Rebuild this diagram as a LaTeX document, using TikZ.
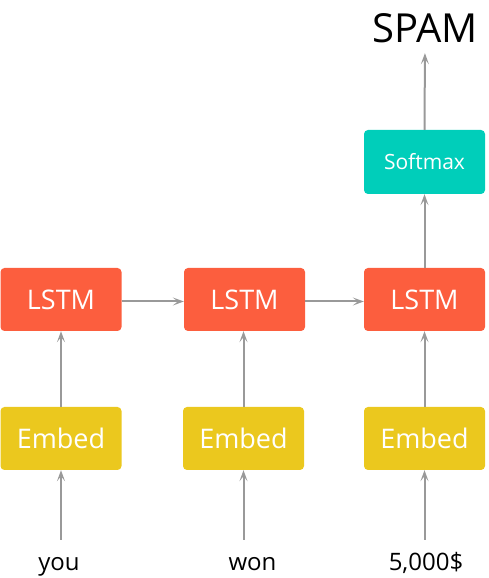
\documentclass[tikz,border=0pt]{standalone}
\usepackage{fontspec}
\setmainfont{Open Sans}
\usetikzlibrary{arrows.meta}
\definecolor{lstmred}{RGB}{252,94,62}
\definecolor{embedyellow}{RGB}{235,200,30}
\definecolor{softteal}{RGB}{0,206,186}
\definecolor{arrowgray}{RGB}{153,153,153}
\tikzset{
	block/.style = {rounded corners = 4pt, minimum width = 121pt, minimum height = 63pt, inner sep = 0pt, text = white},
	lstm/.style = {block, fill = lstmred, font = \fontsize{27}{30}\selectfont},
	embed/.style = {block, fill = embedyellow, font = \fontsize{27}{30}\selectfont},
	softmax/.style = {block, fill = softteal, minimum height = 64pt, font = \fontsize{21}{24}\selectfont},
	word/.style = {anchor = base, inner sep = 0pt, text height = 18pt, text depth = 5pt, font = \fontsize{24}{28}\selectfont},
	link/.style = {draw = arrowgray, line width = 2pt, -{Stealth[length = 11pt, width = 8pt, inset = 5pt]}}
}
\begin{document}
\begin{tikzpicture}[x = 1pt, y = 1pt]
	\useasboundingbox (0, 0) rectangle (489, 578);
	% words
	\node[word] (you) at (59, 7) {you};
	\node[word] (won) at (252.5, 7) {won};
	\node[word] (cash) at (426, 7) {5,000\$};
	% embeddings
	\node[embed] (emb1) at (61, 139.5) {Embed};
	\node[embed] (emb2) at (243.5, 139.5) {Embed};
	\node[embed] (emb3) at (424.5, 139.5) {Embed};
	% lstm cells
	\node[lstm] (lstm1) at (61, 278.5) {LSTM};
	\node[lstm] (lstm2) at (244.5, 278.5) {LSTM};
	\node[lstm] (lstm3) at (424.5, 278.5) {LSTM};
	% output
	\node[softmax] (soft) at (424.5, 416) {Softmax};
	\node[anchor = base, inner sep = 0pt, text height = 27pt, text depth = 0pt, font = \fontsize{40}{44}\selectfont] (spam) at (425, 535) {SPAM};
	\draw[link, shorten <= 13pt] (emb1 |- you.north) -- (emb1.south);
	\draw[link, shorten <= 13pt] (emb2 |- won.north) -- (emb2.south);
	\draw[link, shorten <= 13pt] (emb3 |- cash.north) -- (emb3.south);
	\draw[link] (emb1.north) -- (lstm1.south);
	\draw[link] (emb2 |- emb2.north) -- (lstm2.south -| emb2);
	\draw[link] (emb3.north) -- (lstm3.south);
	\draw[link] ([yshift = -2pt]lstm1.east) -- ([yshift = -2pt]lstm2.west);
	\draw[link] ([yshift = -2pt]lstm2.east) -- ([yshift = -2pt]lstm3.west);
	\draw[link] (lstm3.north) -- (soft.south);
	\draw[link, shorten >= 10pt] (soft.north) -- (spam.south);
\end{tikzpicture}
\end{document}
